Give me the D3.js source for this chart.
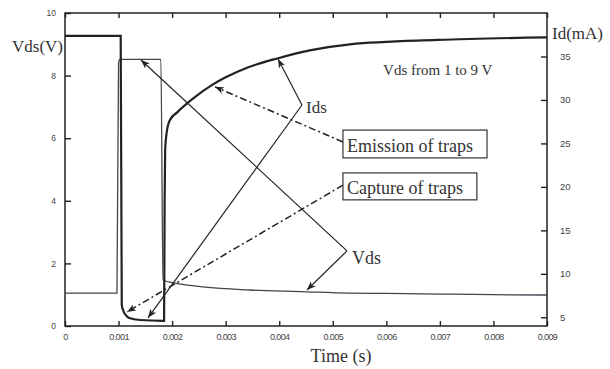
<!DOCTYPE html>
<html>
<head>
<meta charset="utf-8">
<script src="https://cdn.jsdelivr.net/npm/d3@7"></script>
<style>
  body { margin: 0; background: #fff; }
  svg text { fill: #333; }
  .serif { font-family: "Liberation Serif", "Times New Roman", serif; }
  .tick text { font-family: "Liberation Sans", Arial, sans-serif; fill: #444; }
</style>
</head>
<body>
<div id="chart"></div>
<script>
// Data
const vdsTime = [0, 0.00097, 0.00100, 0.00102, 0.00179, 0.00183, 0.00205, 0.00345, 0.00439, 0.00532, 0.006, 0.007, 0.008, 0.009];
const vdsValue = [1.05, 1.05, 8.4, 8.52, 8.52, 1.47, 1.37, 1.15, 1.10, 1.05, 1.04, 1.02, 1.0, 0.99];

const idsTime = [0, 0.00104, 0.00106, 0.0011, 0.00115, 0.0012, 0.0014, 0.00183, 0.00185, 0.00186, 0.00187, 0.0019, 0.00196, 0.0021, 0.0024, 0.00274, 0.0030, 0.0034, 0.00398, 0.00457, 0.00532, 0.00695, 0.009];
const idsValue = [37.36, 37.36, 6.4, 5.6, 5.15, 4.92, 4.69, 4.6, 4.6, 18, 24.2, 26.3, 27.7, 28.6, 30.2, 31.7, 32.6, 33.7, 34.8, 35.7, 36.4, 36.9, 37.2];

const xTicks = [0, 0.001, 0.002, 0.003, 0.004, 0.005, 0.006, 0.007, 0.008, 0.009];
const leftTicks = [0, 2, 4, 6, 8, 10];
const rightTicks = [5, 10, 15, 20, 25, 30, 35];

// Dimensions
const dimensions = { width: 610, height: 369, left: 65, right: 547, top: 13, bottom: 326 };

const svg = d3.select("#chart").append("svg")
  .attr("width", dimensions.width)
  .attr("height", dimensions.height);

// Scales
const xScale = d3.scaleLinear().domain([0, 0.009]).range([dimensions.left, dimensions.right]);
const yLeft = d3.scaleLinear().domain([0, 10]).range([dimensions.bottom, dimensions.top]);
const yRight = d3.scaleLinear().domain([4, 40]).range([dimensions.bottom, dimensions.top]);

// Arrow marker
svg.append("defs").append("marker")
  .attr("id", "arrow")
  .attr("viewBox", "0 0 9 7")
  .attr("refX", 9).attr("refY", 3.5)
  .attr("markerWidth", 9).attr("markerHeight", 7)
  .attr("markerUnits", "userSpaceOnUse")
  .attr("orient", "auto")
  .append("path").attr("d", "M0,0 L9,3.5 L0,7 L2.5,3.5 Z").attr("fill", "#222");

// Axes (ticks pointing inward)
const fmtX = (d) => (d === 0 ? "0" : d3.format(".3f")(d));

svg.append("g")
  .attr("transform", `translate(0,${dimensions.bottom})`)
  .call(d3.axisBottom(xScale).tickValues(xTicks).tickFormat(fmtX).tickSizeInner(-5).tickSizeOuter(0).tickPadding(8))
  .call((g) => g.select(".domain").remove())
  .call((g) => g.selectAll("text").attr("font-size", 9).attr("letter-spacing", -0.6));

svg.append("g")
  .attr("transform", `translate(0,${dimensions.top})`)
  .call(d3.axisTop(xScale).tickValues(xTicks).tickFormat("").tickSizeInner(-5).tickSizeOuter(0))
  .call((g) => g.select(".domain").remove());

svg.append("g")
  .attr("transform", `translate(${dimensions.left},0)`)
  .call(d3.axisLeft(yLeft).tickValues(leftTicks).tickSizeInner(-6).tickSizeOuter(0).tickPadding(9))
  .call((g) => g.select(".domain").remove())
  .call((g) => g.selectAll("text").attr("font-size", 8.5));

svg.append("g")
  .attr("transform", `translate(${dimensions.right},0)`)
  .call(d3.axisRight(yRight).tickValues(rightTicks).tickSizeInner(-6).tickSizeOuter(0).tickPadding(13))
  .call((g) => g.select(".domain").remove())
  .call((g) => g.selectAll("text").attr("font-size", 9.5));

svg.selectAll(".tick line").attr("stroke", "#222").attr("stroke-width", 1.4);

// Frame
svg.append("rect")
  .attr("x", dimensions.left).attr("y", dimensions.top)
  .attr("width", dimensions.right - dimensions.left)
  .attr("height", dimensions.bottom - dimensions.top)
  .attr("fill", "none").attr("stroke", "#222").attr("stroke-width", 1.5);

// Curves
const vdsLine = d3.line()
  .x((d, i) => xScale(vdsTime[i]))
  .y((d) => yLeft(d))
  .curve(d3.curveMonotoneX);

const idsLine = d3.line()
  .x((d, i) => xScale(idsTime[i]))
  .y((d) => yRight(d))
  .curve(d3.curveMonotoneX);

svg.append("path").datum(vdsValue)
  .attr("d", vdsLine)
  .attr("fill", "none").attr("stroke", "#4a4050").attr("stroke-width", 1.3);

svg.append("path").datum(idsValue)
  .attr("d", idsLine)
  .attr("fill", "none").attr("stroke", "#222").attr("stroke-width", 2.2);

// Annotations, in (time, volts) units
const pt = (t, v) => [xScale(t), yLeft(v)];

function arrow(from, to, dashed) {
  const a = pt(...from), b = pt(...to);
  svg.append("line")
    .attr("x1", a[0]).attr("y1", a[1]).attr("x2", b[0]).attr("y2", b[1])
    .attr("stroke", "#222").attr("stroke-width", dashed ? 1.5 : 1.2)
    .attr("stroke-dasharray", dashed ? "7,3,2,3" : null)
    .attr("marker-end", "url(#arrow)");
}

// Ids pointer
arrow([0.004425, 7.06], [0.003977, 8.53]);
arrow([0.004425, 7.06], [0.00155, 0.26]);
// Vds pointer
arrow([0.005265, 2.40], [0.001419, 8.50]);
arrow([0.005265, 2.40], [0.004518, 1.15]);
// Trap pointers
arrow([0.00519, 5.88], [0.00280, 7.64], true);
arrow([0.00519, 4.50], [0.001158, 0.45], true);

function label(t, v, txt, size, anchor) {
  const p = pt(t, v);
  svg.append("text").attr("class", "serif")
    .attr("x", p[0]).attr("y", p[1])
    .attr("font-size", size)
    .attr("text-anchor", anchor || "start")
    .text(txt);
}

function boxLabel(t0, t1, v0, v1, txt) {
  const a = pt(t0, v0), b = pt(t1, v1);
  svg.append("rect")
    .attr("x", a[0]).attr("y", a[1])
    .attr("width", b[0] - a[0]).attr("height", b[1] - a[1])
    .attr("fill", "#fff").attr("stroke", "#333").attr("stroke-width", 1.2);
  svg.append("text").attr("class", "serif")
    .attr("x", a[0] + 4).attr("y", b[1] - 6)
    .attr("font-size", 18)
    .text(txt);
}

boxLabel(0.00519, 0.00788, 6.26, 5.37, "Emission of traps");
boxLabel(0.00519, 0.00769, 4.89, 4.03, "Capture of traps");

label(0.0045, 6.8, "Ids", 17);
label(0.00536, 1.98, "Vds", 18);
label(0.00594, 8.02, "Vds from 1 to 9 V", 15);

// Axis titles
svg.append("text").attr("class", "serif")
  .attr("x", 12).attr("y", 52).attr("font-size", 17).attr("fill", "#555").text("Vds(V)");
svg.append("text").attr("class", "serif")
  .attr("x", 552).attr("y", 39).attr("font-size", 17).text("Id(mA)");
svg.append("text").attr("class", "serif")
  .attr("x", (dimensions.left + dimensions.right) / 2 + 35).attr("y", 362)
  .attr("font-size", 18).attr("text-anchor", "middle").text("Time (s)");
</script>
</body>
</html>
